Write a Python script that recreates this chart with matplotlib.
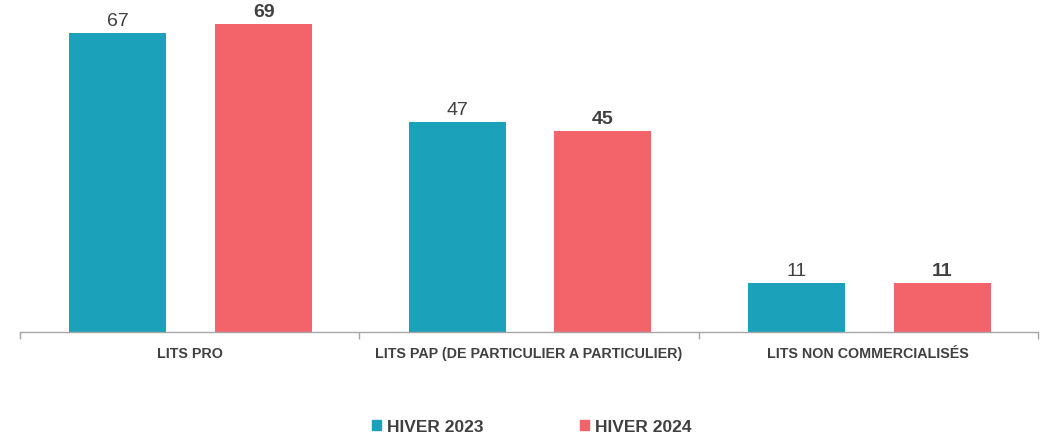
import matplotlib
matplotlib.use("Agg")
import matplotlib.pyplot as plt
import numpy as np

categories = ["LITS PRO", "LITS PAP (DE PARTICULIER A PARTICULIER)", "LITS NON COMMERCIALISÉS"]
series_names = ["HIVER 2023", "HIVER 2024"]
hiver_2023 = [67, 47, 11]
hiver_2024 = [69, 45, 11]

colors = ["#1BA1BA", "#F2636A"]
text_col = "#404040"
plt.rcParams['font.family'] = ['Liberation Sans', 'DejaVu Sans']

W, H = 1047, 439
fig = plt.figure(figsize=(W/100, H/100), dpi=100)
ax = fig.add_axes([20/W, (H-333)/H, (1038-20)/W, 333/H])

x = np.arange(len(categories))
bw = 0.286
off = 0.215
b1 = ax.bar(x - off + 0.003, hiver_2023, bw, color=colors[0], label=series_names[0])
b2 = ax.bar(x + off + 0.003, hiver_2024, bw, color=colors[1], label=series_names[1])

for rect, v in zip(b1, hiver_2023):
    ax.annotate(f"{v}", (rect.get_x()+rect.get_width()/2, rect.get_height()),
                xytext=(0, 3), textcoords="offset points", ha="center", va="bottom",
                fontsize=14, color=text_col)
for rect, v in zip(b2, hiver_2024):
    ax.annotate(f"{v}", (rect.get_x()+rect.get_width()/2, rect.get_height()),
                xytext=(0, 3), textcoords="offset points", ha="center", va="bottom",
                fontsize=14, color=text_col, fontweight="bold")

ax.set_xlim(-0.5, len(categories)-0.5)
ax.set_ylim(0, 333/4.463)
for s in ["top", "right", "left"]:
    ax.spines[s].set_visible(False)
ax.spines["bottom"].set_color("#A6A6A6")
ax.spines["bottom"].set_linewidth(1)
ax.set_yticks([])
ax.set_xticks(np.arange(-0.5, len(categories), 1.0))
ax.set_xticklabels([])
ax.tick_params(axis="x", length=5, color="#A6A6A6", width=1)
ax.set_xticks(x, minor=True)
ax.set_xticklabels(categories, minor=True, fontsize=10.3, fontweight="bold", color=text_col)
ax.tick_params(axis="x", which="minor", length=0, pad=10)

handles = [plt.Rectangle((0, 0), 1, 1, color=c) for c in colors]
leg = fig.legend(handles, series_names, loc="center", bbox_to_anchor=(0.508, (H-428)/H),
                 ncol=2, frameon=False, handlelength=0.5, handleheight=0.5,
                 handletextpad=0.35, columnspacing=5.6, prop={"size": 12.5, "weight": "bold"})
for t in leg.get_texts():
    t.set_color(text_col)

fig.savefig("out.png", dpi=100)
